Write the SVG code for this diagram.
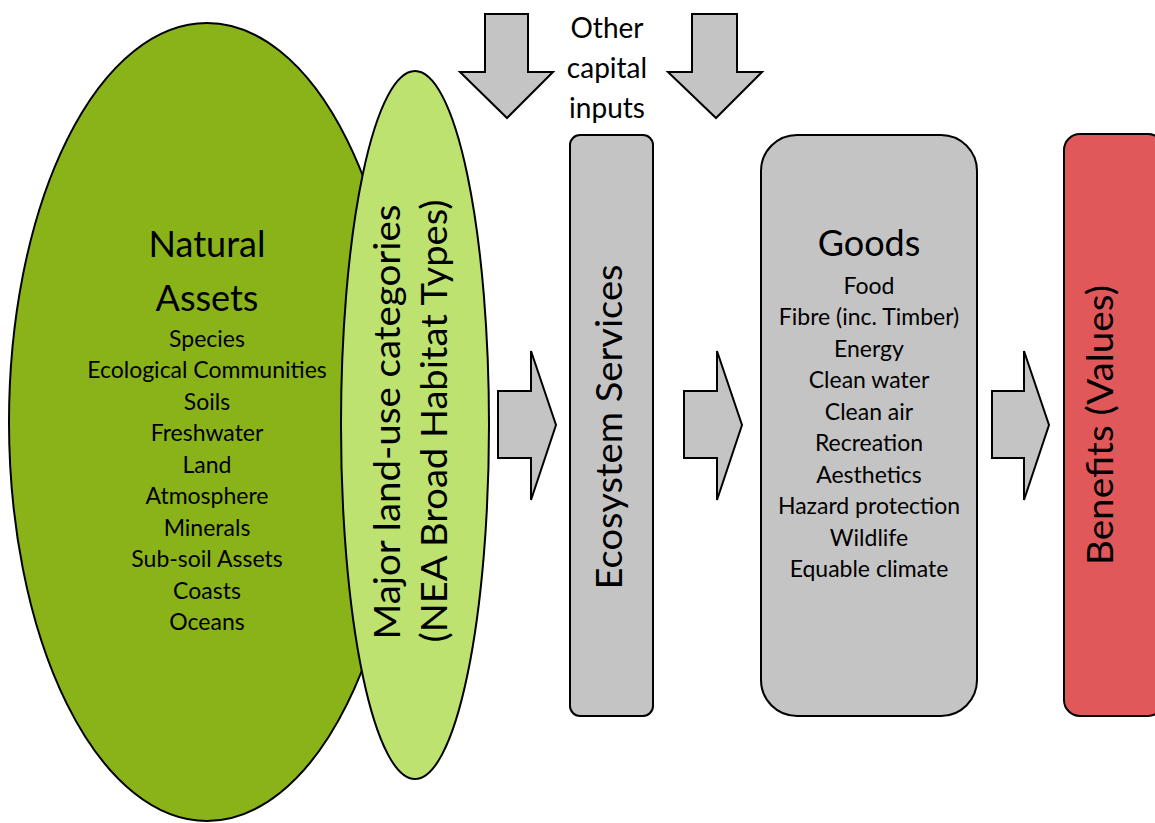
<svg xmlns="http://www.w3.org/2000/svg" width="1155" height="823" viewBox="0 0 1155 823">
<style>
.s{stroke:#000;stroke-width:2;stroke-linejoin:miter}
.g{fill:#C4C4C4}
.t{font-family:Lato,"Liberation Sans",sans-serif;fill:#000;text-anchor:middle}
.big{font-size:36px}
.it{font-size:23px}
.vt{font-size:36px}
.oc{font-size:28px}
</style>
<rect width="1155" height="823" fill="#fff"/>
<g id="natural-assets">
<ellipse cx="207" cy="422" rx="198" ry="399" fill="#8AB319" class="s"/>
<text class="t big" x="207" y="257">Natural</text>
<text class="t big" x="207" y="311">Assets</text>
<text class="t it" x="207" y="347">Species</text>
<text class="t it" x="207" y="378">Ecological Communities</text>
<text class="t it" x="207" y="410">Soils</text>
<text class="t it" x="207" y="441">Freshwater</text>
<text class="t it" x="207" y="473">Land</text>
<text class="t it" x="207" y="504">Atmosphere</text>
<text class="t it" x="207" y="536">Minerals</text>
<text class="t it" x="207" y="567">Sub-soil Assets</text>
<text class="t it" x="207" y="599">Coasts</text>
<text class="t it" x="207" y="630">Oceans</text>
</g>
<g id="land-use">
<ellipse cx="415" cy="425" rx="74" ry="354" fill="#BDE26F" class="s"/>
<text class="t vt" transform="translate(400,422) rotate(-90)" textLength="435" lengthAdjust="spacingAndGlyphs">Major land-use categories</text>
<text class="t vt" transform="translate(447,421) rotate(-90)" textLength="443" lengthAdjust="spacingAndGlyphs">(NEA Broad Habitat Types)</text>
</g>
<g id="other-inputs">
<polygon class="s g" points="485,14 528,14 528,72 553,72 507,118 460,72 485,72"/>
<polygon class="s g" points="692,14 737,14 737,72 762,72 716,118 668,72 692,72"/>
<text class="t oc" x="607" y="38">Other</text>
<text class="t oc" x="607" y="78">capital</text>
<text class="t oc" x="607" y="118">inputs</text>
</g>
<g id="ecosystem-services">
<rect class="s g" x="570" y="135" width="83" height="581" rx="10"/>
<text class="t vt" transform="translate(622,427) rotate(-90)" textLength="325" lengthAdjust="spacingAndGlyphs">Ecosystem Services</text>
</g>
<g id="goods">
<rect class="s g" x="761" y="135" width="216" height="581" rx="36"/>
<text class="t big" x="869" y="256">Goods</text>
<text class="t it" x="869" y="294">Food</text>
<text class="t it" x="869" y="325">Fibre (inc. Timber)</text>
<text class="t it" x="869" y="357">Energy</text>
<text class="t it" x="869" y="388">Clean water</text>
<text class="t it" x="869" y="420">Clean air</text>
<text class="t it" x="869" y="451">Recreation</text>
<text class="t it" x="869" y="483">Aesthetics</text>
<text class="t it" x="869" y="514">Hazard protection</text>
<text class="t it" x="869" y="546">Wildlife</text>
<text class="t it" x="869" y="577">Equable climate</text>
</g>
<g id="benefits">
<rect class="s" fill="#E0585A" x="1064" y="134" width="100" height="582" rx="16"/>
<text class="t vt" transform="translate(1113,425) rotate(-90)" textLength="280" lengthAdjust="spacingAndGlyphs">Benefits (Values)</text>
</g>
<g id="connectors">
<polygon class="s g" points="498,391 531,391 531,351 556,425 531,500 531,458 498,458"/>
<polygon class="s g" points="684,391 717,391 717,351 742,425 717,500 717,458 684,458"/>
<polygon class="s g" points="992,391 1024,391 1024,351 1049,425 1024,500 1024,458 992,458"/>
</g>
</svg>
